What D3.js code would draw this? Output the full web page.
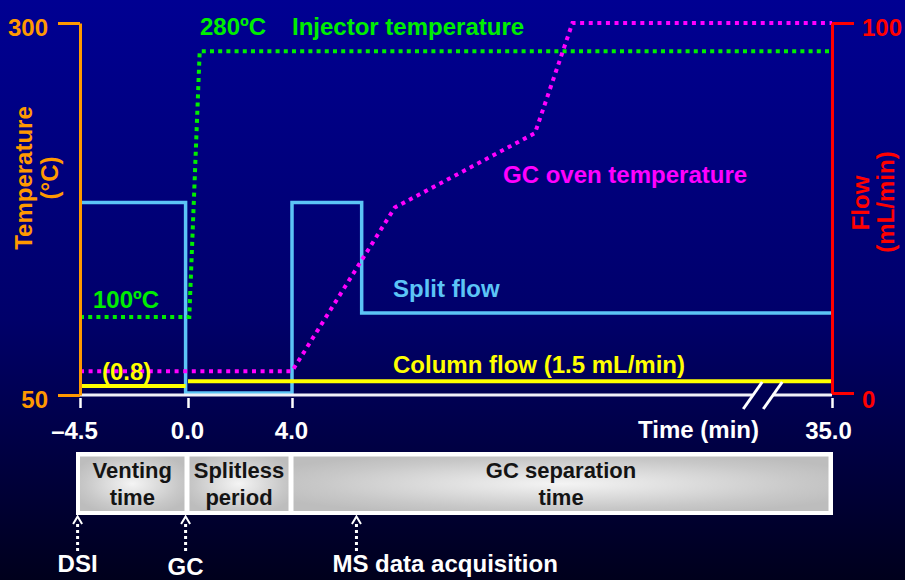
<!DOCTYPE html>
<html>
<head>
<meta charset="utf-8">
<script src="https://cdn.jsdelivr.net/npm/d3@7"></script>
<style>
  html, body { margin: 0; padding: 0; background: #000040; }
  svg { display: block; font-family: "Liberation Sans", Arial, sans-serif; font-weight: bold; }
</style>
</head>
<body>
<svg id="chart" width="905" height="580"></svg>
<script>
// time axis (min), broken between 4 and 35
const timeTicks = [-4.5, 0, 4, 35];
const timeTickLabels = ['\u20134.5', '0.0', '4.0', '35.0'];
const breakTimes = [30.45, 31.6];

// left axis: temperature (degC)
const tempTicks = [50, 300];
// right axis: flow (mL/min)
const flowTicks = [0, 100];

// injector temperature
const injectorTime = [-4.5, 0.05, 0.45, 35];
const injectorTemp = [102.5, 102.5, 281, 281];

// GC oven temperature
const ovenTime = [-4.5, 4, 9.9, 17.95, 20.1, 35];
const ovenTemp = [66, 66, 176, 226, 300, 300];

// split flow (step after)
const splitTime = [-4.5, -0.1, 4, 8, 35];
const splitFlow = [51.5, 0, 51.5, 21.6, 21.6];

// column flow segments
const columnStart = [-4.5, 0];
const columnEnd = [-0.1, 35];
const columnFlow = [1.9, 3.2];

// phases shown in the box under the chart
const phaseNames = [['Venting', 'time'], ['Splitless', 'period'], ['GC separation', 'time']];
const phaseStart = [-4.5, 0, 4];
const phaseEnd = [0, 4, 35];

// event markers under the box
const eventNames = ['DSI', 'GC', 'MS data acquisition'];
const eventTime = [-4.6, -0.1, 7.7];

const svg = d3.select('#chart');
const W = 905, H = 580;
const fs = 24;

const x = d3.scaleLinear().domain(timeTicks).range([80, 188, 292, 832]);
const yT = d3.scaleLinear().domain([50, 300]).range([395, 23]);
const yF = d3.scaleLinear().domain([0, 100]).range([393, 23]);

// background
const defs = svg.append('defs');
const bg = defs.append('linearGradient').attr('id', 'bg').attr('x1', 0).attr('y1', 0).attr('x2', 0).attr('y2', 1);
bg.append('stop').attr('offset', 0).attr('stop-color', '#000092');
bg.append('stop').attr('offset', 0.55).attr('stop-color', '#00006a');
bg.append('stop').attr('offset', 1).attr('stop-color', '#00001c');
svg.append('rect').attr('width', W).attr('height', H).attr('fill', 'url(#bg)');

const cellGrad = defs.append('radialGradient').attr('id', 'cell').attr('cx', 0.5).attr('cy', 0.5).attr('r', 0.6);
cellGrad.append('stop').attr('offset', 0).attr('stop-color', '#f4f4f4');
cellGrad.append('stop').attr('offset', 0.75).attr('stop-color', '#c8c8c8');
cellGrad.append('stop').attr('offset', 1).attr('stop-color', '#bdbdbd');

// series
const tLine = d3.line().x(d => x(d[0])).y(d => yT(d[1]));
const fLine = d3.line().x(d => x(d[0])).y(d => yF(d[1]));

svg.append('path')
  .attr('d', fLine.curve(d3.curveStepAfter)(d3.zip(splitTime, splitFlow)))
  .attr('fill', 'none').attr('stroke', '#5cc4f6').attr('stroke-width', 3.5);

columnStart.forEach((s, i) => {
  svg.append('path')
    .attr('d', d3.line().x(d => x(d[0])).y(d => yF(d[1]))([[s, columnFlow[i]], [columnEnd[i], columnFlow[i]]]))
    .attr('stroke', '#ffff00').attr('stroke-width', 4);
});

svg.append('path')
  .attr('d', tLine(d3.zip(injectorTime, injectorTemp)))
  .attr('fill', 'none').attr('stroke', '#00ee00').attr('stroke-width', 4)
  .attr('stroke-dasharray', '4 4.2');

svg.append('path')
  .attr('d', tLine(d3.zip(ovenTime, ovenTemp)))
  .attr('fill', 'none').attr('stroke', '#ff00ff').attr('stroke-width', 4)
  .attr('stroke-dasharray', '4 4.6');

// x axis with break
const axisY = 395;
const gx = svg.append('g').attr('transform', `translate(0,${axisY})`)
  .call(d3.axisBottom(x).tickValues(timeTicks).tickFormat((d, i) => timeTickLabels[i]).tickSize(13).tickPadding(14));
gx.select('.domain').remove();
gx.selectAll('line').attr('stroke', '#ffffff').attr('stroke-width', 2.5).attr('y1', 3);
gx.selectAll('text').attr('fill', '#ffffff').attr('font-size', fs).attr('font-weight', 'bold')
  .attr('font-family', '"Liberation Sans", Arial, sans-serif')
  .attr('dx', (d, i) => i === 0 ? -6 : (i === 3 ? -4 : -1));

svg.append('line').attr('x1', x(-4.5)).attr('x2', x(breakTimes[0])).attr('y1', axisY).attr('y2', axisY)
  .attr('stroke', '#f0f0f8').attr('stroke-width', 3);
svg.append('line').attr('x1', x(breakTimes[1])).attr('x2', x(35)).attr('y1', axisY).attr('y2', axisY)
  .attr('stroke', '#f0f0f8').attr('stroke-width', 3);
breakTimes.forEach(t => {
  svg.append('line').attr('x1', x(t) + 9.5).attr('y1', axisY - 13).attr('x2', x(t) - 9.5).attr('y2', axisY + 14)
    .attr('stroke', '#ffffff').attr('stroke-width', 3);
});

svg.append('text').attr('x', 759).attr('y', 438).attr('text-anchor', 'end')
  .attr('fill', '#ffffff').attr('font-size', fs).text('Time (min)');

// left axis
const orange = '#ff9900';
const gl = svg.append('g').attr('transform', 'translate(80,0)')
  .call(d3.axisLeft(yT).tickValues(tempTicks).tickSize(22).tickSizeOuter(0).tickPadding(10));
gl.select('.domain').attr('stroke', orange).attr('stroke-width', 3);
gl.selectAll('line').attr('stroke', orange).attr('stroke-width', 3);
gl.selectAll('text').attr('fill', orange).attr('font-size', fs).attr('font-weight', 'bold')
  .attr('font-family', '"Liberation Sans", Arial, sans-serif').attr('dy', '0.52em');

// right axis
const red = '#ff0000';
const gr = svg.append('g').attr('transform', 'translate(832,0)')
  .call(d3.axisRight(yF).tickValues(flowTicks).tickSize(22).tickSizeOuter(0).tickPadding(8));
gr.select('.domain').attr('stroke', red).attr('stroke-width', 3);
gr.selectAll('line').attr('stroke', red).attr('stroke-width', 3);
gr.selectAll('text').attr('fill', red).attr('font-size', fs).attr('font-weight', 'bold')
  .attr('font-family', '"Liberation Sans", Arial, sans-serif').attr('dy', d => d === 0 ? '0.62em' : '0.52em');

// axis titles
svg.append('text').attr('transform', 'translate(32,178) rotate(-90)').attr('text-anchor', 'middle')
  .attr('fill', orange).attr('font-size', fs).text('Temperature');
svg.append('text').attr('transform', 'translate(58,178) rotate(-90)').attr('text-anchor', 'middle')
  .attr('fill', orange).attr('font-size', fs).text('(\u00B0C)');
svg.append('text').attr('transform', 'translate(869,203) rotate(-90)').attr('text-anchor', 'middle')
  .attr('fill', red).attr('font-size', fs).text('Flow');
svg.append('text').attr('transform', 'translate(894,202) rotate(-90)').attr('text-anchor', 'middle')
  .attr('fill', red).attr('font-size', fs).text('(mL/min)');

// annotations
const notes = [
  { text: '280\u00BAC', x: 200, y: 35, c: '#00ee00' },
  { text: 'Injector temperature', x: 292, y: 35, c: '#00ee00' },
  { text: '100\u00BAC', x: 93, y: 308, c: '#00ee00' },
  { text: '(0.8)', x: 102, y: 380, c: '#ffff00' },
  { text: 'Column flow (1.5 mL/min)', x: 393, y: 373, c: '#ffff00' },
  { text: 'Split flow', x: 393, y: 297, c: '#5cc4f6' },
  { text: 'GC oven temperature', x: 503, y: 183, c: '#ff00ff' }
];
svg.selectAll('.note').data(notes).join('text').attr('class', 'note')
  .attr('x', d => d.x).attr('y', d => d.y).attr('fill', d => d.c).attr('font-size', fs).text(d => d.text);

// phase box
svg.append('rect').attr('x', x(-4.5) - 4).attr('y', 452).attr('width', x(35) + 1 - (x(-4.5) - 4)).attr('height', 63)
  .attr('fill', '#ffffff');
phaseNames.forEach((names, i) => {
  const x0 = x(phaseStart[i]) + (i > 0 ? 1.5 : 0);
  const x1 = x(phaseEnd[i]) - 3.5;
  svg.append('rect').attr('x', x0).attr('y', 456.5).attr('width', x1 - x0).attr('height', 54.5)
    .attr('fill', 'url(#cell)');
  const cx = (x0 + x1) / 2;
  names.forEach((n, j) => {
    svg.append('text').attr('x', cx).attr('y', 478 + j * 27).attr('text-anchor', 'middle')
      .attr('fill', '#141414').attr('font-size', 22).text(n);
  });
});

// event arrows
eventNames.forEach((n, i) => {
  const ex = x(eventTime[i]);
  svg.append('line').attr('x1', ex).attr('x2', ex).attr('y1', 524).attr('y2', 551)
    .attr('stroke', '#ffffff').attr('stroke-width', 3).attr('stroke-dasharray', '3 3');
  svg.append('path').attr('d', `M${ex - 4.5},524 L${ex},516.5 L${ex + 4.5},524`)
    .attr('fill', 'none').attr('stroke', '#ffffff').attr('stroke-width', 2);
  const last = i === eventNames.length - 1;
  svg.append('text').attr('x', last ? ex - 24 : ex).attr('y', i === 1 ? 574.5 : 572)
    .attr('text-anchor', last ? 'start' : 'middle')
    .attr('fill', '#ffffff').attr('font-size', fs).text(n);
});
</script>
</body>
</html>
